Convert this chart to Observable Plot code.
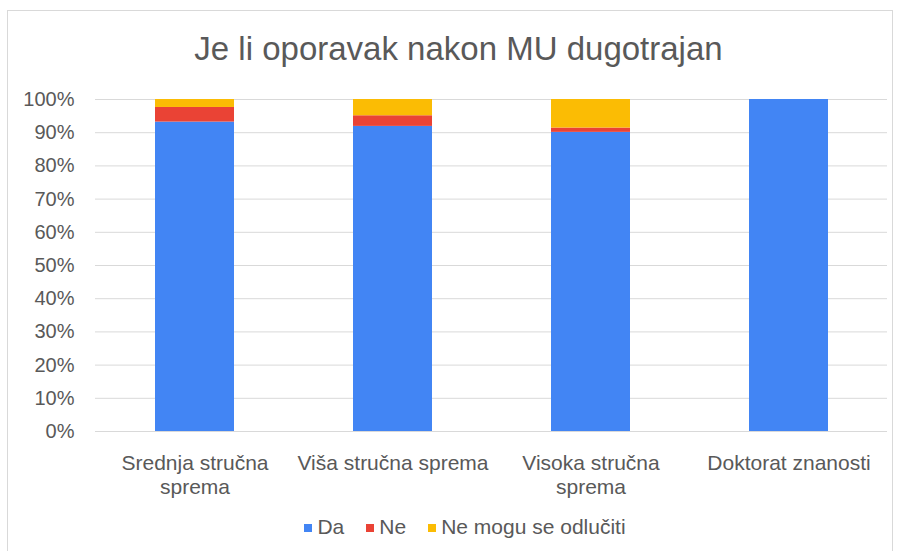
<!DOCTYPE html>
<html>
<head>
<meta charset="utf-8">
<script src="https://cdn.jsdelivr.net/npm/d3@7"></script>
<script src="https://cdn.jsdelivr.net/npm/@observablehq/plot@0.6"></script>
<style>
  html, body { margin: 0; padding: 0; background: #fff; }
  body { width: 902px; height: 551px; overflow: hidden; font-family: "Liberation Sans", Arial, sans-serif; position: relative; }
  #frame { position: absolute; left: 7px; top: 10px; width: 886px; height: 560px; border: 1px solid #d9d9d9; box-sizing: border-box; }
  #wrap { position: absolute; left: 0; top: 0; width: 902px; }
  #title { height: 80px; box-sizing: border-box; padding-top: 17px; padding-left: 15px; line-height: 63px; text-align: center; font-size: 33px; color: #595959; white-space: nowrap; }
  #chart { height: 425px; }
  #legend { height: 44px; display: flex; justify-content: center; align-items: center; font-size: 21px; color: #595959; padding-left: 28px; box-sizing: border-box; white-space: nowrap; }
  .item { display: flex; align-items: center; margin: 0 11px; }
  .sw { width: 8px; height: 8px; display: inline-block; margin-right: 5px; margin-top: 2px; }
</style>
</head>
<body>
<div id="frame"></div>
<div id="wrap">
  <div id="title">Je li oporavak nakon MU dugotrajan</div>
  <div id="chart"></div>
  <div id="legend"></div>
</div>
<script>
const categories = ["Srednja stručna sprema", "Viša stručna sprema", "Visoka stručna sprema", "Doktorat znanosti"];
const tickLabels = ["Srednja stručna\nsprema", "Viša stručna sprema", "Visoka stručna\nsprema", "Doktorat znanosti"];
const seriesNames = ["Da", "Ne", "Ne mogu se odlučiti"];
const da = [93.2, 91.9, 90.1, 100];
const ne = [4.4, 3.2, 1.3, 0];
const neMogu = [2.4, 4.9, 8.6, 0];
const colors = ["#4285F4", "#EA4335", "#FBBC04"];
const yTicks = [0, 10, 20, 30, 40, 50, 60, 70, 80, 90, 100];

const seriesValues = [da, ne, neMogu];
const rows = [];
seriesNames.forEach((s, si) => {
  categories.forEach((c, ci) => rows.push({category: c, series: s, value: seriesValues[si][ci]}));
});

const plot = Plot.plot({
  width: 902,
  height: 425,
  marginTop: 19,
  marginBottom: 74,
  marginLeft: 95,
  marginRight: 15,
  style: {fontFamily: "Liberation Sans, Arial, sans-serif", fontSize: "20px", color: "#595959", background: "transparent", overflow: "visible"},
  x: {domain: categories, paddingInner: 0.603, paddingOuter: 0.3015, label: null},
  y: {domain: [0, 100], ticks: yTicks, label: null},
  color: {domain: seriesNames, range: colors},
  marks: [
    Plot.gridY(yTicks, {stroke: "#d9d9d9", strokeOpacity: 1}),
    Plot.barY(rows, Plot.stackY({x: "category", y: "value", fill: "series", order: seriesNames})),
    Plot.axisY({ticks: yTicks, tickFormat: d => d + "%", tickSize: 0, tickPadding: 21, label: null, fill: "#595959", fontSize: 20}),
    Plot.axisX({tickSize: 0, tickPadding: 22, label: null, lineHeight: 1.12, fontSize: 21, tickFormat: d => tickLabels[categories.indexOf(d)], fill: "#595959"}),
    Plot.ruleY([0], {stroke: "#d9d9d9"})
  ]
});
document.getElementById("chart").appendChild(plot);

const legend = document.getElementById("legend");
seriesNames.forEach((s, i) => {
  const it = document.createElement("span");
  it.className = "item";
  const sw = document.createElement("span");
  sw.className = "sw";
  sw.style.background = colors[i];
  it.appendChild(sw);
  it.appendChild(document.createTextNode(s));
  legend.appendChild(it);
});
</script>
</body>
</html>
